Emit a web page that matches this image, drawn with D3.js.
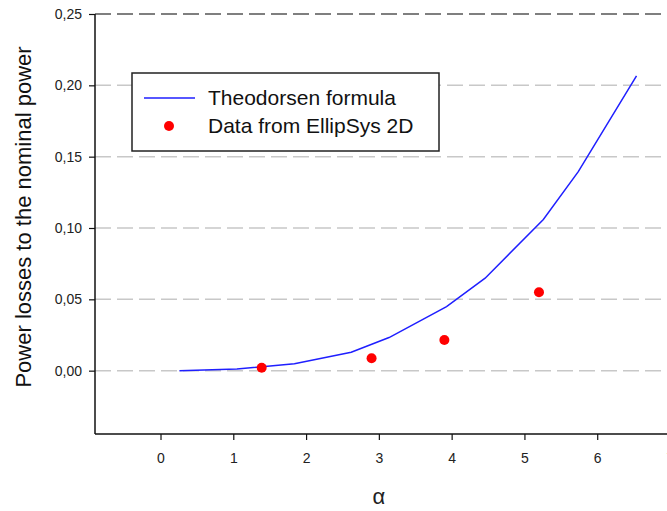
<!doctype html>
<html lang="en">
<head>
<meta charset="UTF-8"/>
<title>Power losses</title>
<script src="https://cdnjs.cloudflare.com/ajax/libs/d3/7.8.5/d3.min.js"></script>
<style>
  body { margin: 0; background: #fff; }
  svg { display: block; font-family: "Liberation Sans", Arial, sans-serif; }
</style>
</head>
<body>
<div id="chart"></div>
<script>
  // Theodorsen formula curve (alpha, loss)
  var curveAlpha = [0.26, 1.05, 1.84, 2.62, 3.14, 3.93, 4.46, 5.26, 5.74, 6.54];
  var curveLoss  = [0.0, 0.0012, 0.0049, 0.0129, 0.0232, 0.0449, 0.0648, 0.106, 0.1395, 0.2066];

  // EllipSys 2D points
  var dataAlpha = [1.39, 2.90, 3.90, 5.20];
  var dataLoss  = [0.0021, 0.0087, 0.0215, 0.055];

  var xTicks = [0, 1, 2, 3, 4, 5, 6, 7];
  var yTicks = [0, 0.05, 0.10, 0.15, 0.20, 0.25];

  var W = 667, H = 511;
  var margin = {top: 14, right: -3, bottom: 77, left: 95};

  var svg = d3.select("#chart").append("svg")
      .attr("width", W).attr("height", H);

  var x = d3.scaleLinear().domain([-0.9, 7]).range([margin.left, W - margin.right]);
  var y = d3.scaleLinear().domain([-0.0444, 0.25]).range([H - margin.bottom, margin.top]);

  var fmt = function(d) { return d3.format(".2f")(d).replace(".", ","); };

  // grid lines
  svg.append("g").selectAll("line")
    .data(yTicks)
    .enter().append("line")
    .attr("x1", x(-0.9)).attr("x2", W)
    .attr("y1", function(d) { return y(d); })
    .attr("y2", function(d) { return y(d); })
    .attr("stroke", function(d) { return d === 0.25 ? "#555" : "#c8c8c8"; })
    .attr("stroke-width", 1.5)
    .attr("stroke-dasharray", "16,6");

  // left axis
  var yAxis = d3.axisLeft(y).tickValues(yTicks).tickFormat(fmt).tickSize(6).tickSizeOuter(0);
  var gy = svg.append("g").attr("transform", "translate(" + margin.left + ",0)").call(yAxis);
  gy.select(".domain").remove();
  gy.append("line")
    .attr("x1", 0).attr("x2", 0)
    .attr("y1", y(0.25)).attr("y2", y(-0.0444))
    .attr("stroke", "#111").attr("stroke-width", 1.5);
  gy.selectAll(".tick line").attr("stroke", "#111").attr("stroke-width", 1.2);
  gy.selectAll(".tick text")
    .attr("x", -13)
    .attr("font-size", 14)
    .attr("font-family", "Liberation Sans, Arial, sans-serif")
    .attr("fill", "#222");

  // bottom axis
  var xAxis = d3.axisBottom(x).tickValues(xTicks).tickFormat(d3.format("d")).tickSize(6).tickSizeOuter(0);
  var gx = svg.append("g").attr("transform", "translate(0," + y(-0.0444) + ")").call(xAxis);
  gx.select(".domain").remove();
  gx.append("line")
    .attr("x1", margin.left).attr("x2", W)
    .attr("y1", 0).attr("y2", 0)
    .attr("stroke", "#111").attr("stroke-width", 1.5);
  gx.selectAll(".tick line").attr("stroke", "#111").attr("stroke-width", 1.2);
  gx.selectAll(".tick text")
    .attr("y", 19)
    .attr("font-size", 14)
    .attr("font-family", "Liberation Sans, Arial, sans-serif")
    .attr("fill", "#222");

  // axis titles
  svg.append("text")
    .attr("transform", "translate(31,217) rotate(-90)")
    .attr("text-anchor", "middle")
    .attr("font-size", 22)
    .attr("fill", "#111")
    .text("Power losses to the nominal power");

  svg.append("text")
    .attr("x", x(3)).attr("y", 504)
    .attr("text-anchor", "middle")
    .attr("font-size", 22)
    .attr("fill", "#222")
    .text("\u03b1");

  // Theodorsen curve
  var line = d3.line()
    .x(function(d, i) { return x(curveAlpha[i]); })
    .y(function(d, i) { return y(curveLoss[i]); });

  svg.append("path")
    .datum(curveAlpha)
    .attr("d", line)
    .attr("fill", "none")
    .attr("stroke", "#1f1fff")
    .attr("stroke-width", 1.5);

  // EllipSys points
  svg.append("g").selectAll("circle")
    .data(dataAlpha)
    .enter().append("circle")
    .attr("cx", function(d) { return x(d); })
    .attr("cy", function(d, i) { return y(dataLoss[i]); })
    .attr("r", 5)
    .attr("fill", "#ff0000");

  // legend
  var lg = svg.append("g").attr("transform", "translate(132,73)");
  lg.append("rect")
    .attr("width", 307).attr("height", 78)
    .attr("fill", "#fff")
    .attr("stroke", "#222").attr("stroke-width", 1.5);
  lg.append("line")
    .attr("x1", 12).attr("x2", 63)
    .attr("y1", 25).attr("y2", 25)
    .attr("stroke", "#1f1fff").attr("stroke-width", 1.5);
  lg.append("circle")
    .attr("cx", 37).attr("cy", 53).attr("r", 5)
    .attr("fill", "#ff0000");
  lg.append("text")
    .attr("x", 76).attr("y", 32)
    .attr("font-size", 21).attr("fill", "#111")
    .text("Theodorsen formula");
  lg.append("text")
    .attr("x", 76).attr("y", 60)
    .attr("font-size", 21).attr("fill", "#111")
    .text("Data from EllipSys 2D");
</script>
</body>
</html>
